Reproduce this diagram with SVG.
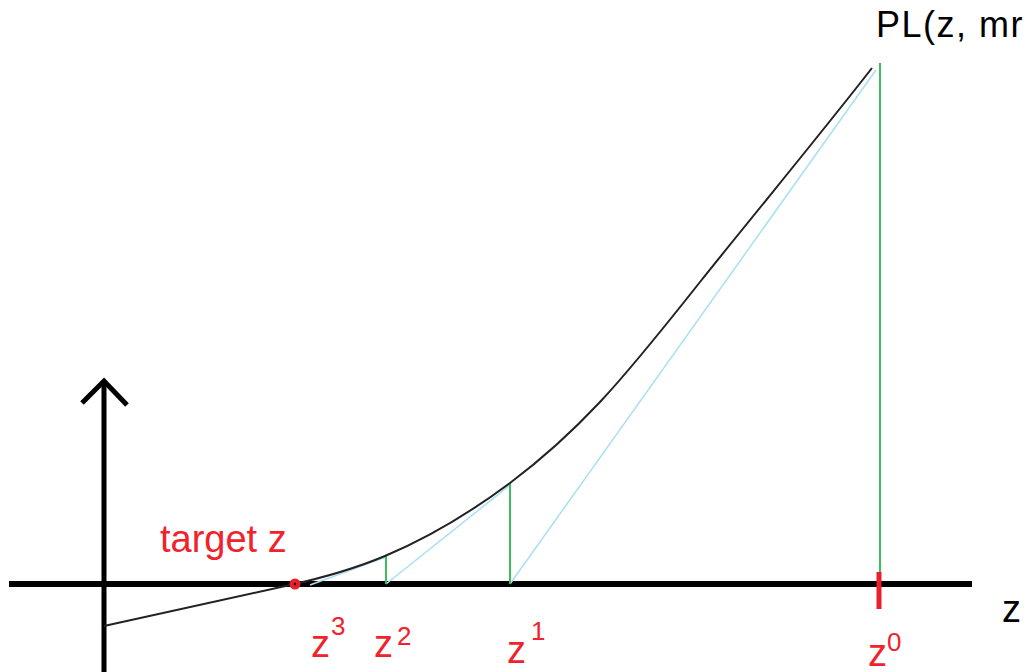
<svg xmlns="http://www.w3.org/2000/svg" width="1027" height="672" viewBox="0 0 1027 672">
<style>
.lbl{font-family:"Liberation Sans",Arial,sans-serif;fill:#f0222c}
.big{font-size:38px}
.sup{font-size:26px}
.axis{stroke:#000;fill:none;stroke-linecap:butt}
.green{stroke:#3cbf5a;stroke-width:2;fill:none}
.blue{stroke:#a9dff2;stroke-width:1.5;fill:none}
</style>
<rect width="1027" height="672" fill="#fff"/>
<g id="axes">
<line class="axis" x1="9" y1="584" x2="972" y2="584" stroke-width="6"/>
<line class="axis" x1="104" y1="381" x2="104" y2="672" stroke-width="5"/>
<polyline class="axis" points="82,403 104,381 127,405" stroke-width="5" stroke-linecap="square"/>
</g>
<g id="connectors">
<line class="blue" x1="876" y1="70" x2="510" y2="584"/>
<line class="blue" x1="510" y1="485" x2="386" y2="584"/>
<line class="blue" x1="386" y1="557" x2="310" y2="585"/>
<line class="green" x1="880" y1="63" x2="880" y2="584"/>
<line class="green" x1="510" y1="483" x2="510" y2="584"/>
<line class="green" x1="386" y1="556" x2="386" y2="584"/>
</g>
<g id="curve">
<path d="M104,626 L290,585 C321.7,578 353.3,569.3 385,556 C426.7,538.5 468.3,514 510,483 C540,460.5 570,434 600,402 C633.3,366.5 666.7,324 700,282 C757.3,210.3 814.7,141.4 872,68" fill="none" stroke="#222" stroke-width="2"/>
</g>
<g id="marks">
<line x1="879" y1="572" x2="879" y2="609" stroke="#e8202a" stroke-width="5"/>
<circle cx="295" cy="584" r="5.5" fill="#e8202a"/>
<circle cx="295" cy="584" r="1.2" fill="#000"/>
</g>
<g id="labels">
<text x="876" y="37" font-family="Liberation Sans, Arial, sans-serif" font-size="36" letter-spacing="1.5" fill="#000">PL(z, mr</text>
<text class="lbl big" x="160" y="552">target z</text>
<text class="lbl big" x="311" y="657">z</text>
<text class="lbl sup" x="331" y="635">3</text>
<text class="lbl big" x="374" y="657">z</text>
<text class="lbl sup" x="397" y="645">2</text>
<text class="lbl big" x="507" y="663">z</text>
<text class="lbl sup" x="531" y="640">1</text>
<text class="lbl big" x="868" y="666">z</text>
<text class="lbl sup" x="887" y="651">0</text>
<text x="1002" y="622" font-family="Liberation Sans, Arial, sans-serif" font-size="38" fill="#000">z</text>
</g>
</svg>
